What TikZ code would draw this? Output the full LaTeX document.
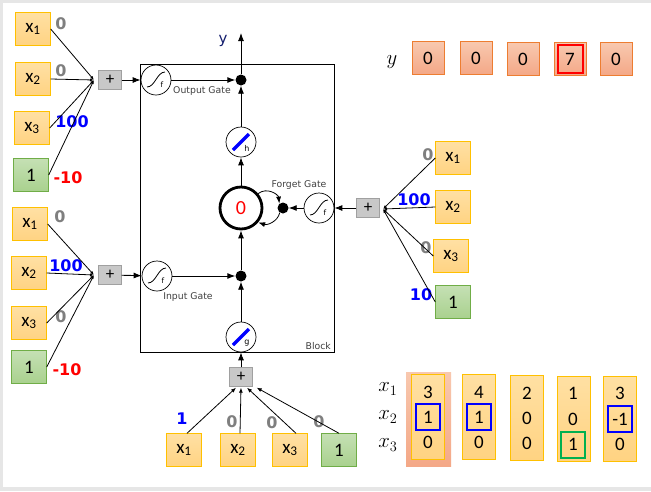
\documentclass[tikz,border=0pt]{standalone}
\usepackage[no-math]{fontspec}
\setmainfont{Carlito}
\newfontfamily\dv{DejaVu Sans}
\usetikzlibrary{arrows.meta}
\definecolor{boxgold}{RGB}{255,192,0}
\definecolor{boxtop}{RGB}{255,224,163}
\definecolor{boxbot}{RGB}{255,211,130}
\definecolor{grnbd}{RGB}{112,173,71}
\definecolor{grntop}{RGB}{197,224,180}
\definecolor{grnbot}{RGB}{169,209,142}
\definecolor{salbd}{RGB}{237,125,49}
\definecolor{saltop}{RGB}{248,200,175}
\definecolor{salbot}{RGB}{244,168,135}
\definecolor{wgray}{RGB}{127,127,127}
\definecolor{pbox}{RGB}{200,200,200}
\definecolor{pboxbd}{RGB}{160,160,160}
\definecolor{navy}{RGB}{20,30,110}
\definecolor{hlgreen}{RGB}{0,176,80}
\definecolor{bggray}{RGB}{230,230,230}
\tikzset{
  inbox/.style={draw=boxgold, top color=boxtop, bottom color=boxbot, minimum width=35pt, minimum height=33pt, inner sep=0pt, font=\fontsize{19}{20}\selectfont},
  onebox/.style={draw=grnbd, top color=grntop, bottom color=grnbot, minimum width=35pt, minimum height=33pt, inner sep=0pt, font=\fontsize{19}{20}\selectfont},
  wlab/.style={font=\dv\bfseries\fontsize{16}{18}\selectfont, inner sep=0pt},
  plusbox/.style={draw=pboxbd, fill=pbox, minimum width=23pt, minimum height=19pt, inner sep=0pt, font=\fontsize{17}{17}\selectfont},
  gatec/.style={circle, draw, line width=0.7pt, minimum size=30pt, inner sep=0pt, fill=white},
  cellc/.style={circle, draw, line width=2.8pt, minimum size=42pt, inner sep=0pt, fill=white, text=red, font=\fontsize{20}{22}\selectfont},
  dotn/.style={circle, fill=black, minimum size=11pt, inner sep=0pt},
  arr/.style={-{Latex[length=8pt,width=6pt]}, line width=0.9pt},
  inarr/.style={-{Latex[length=4pt,width=3pt]}, line width=0.8pt},
  gatelab/.style={font=\dv\fontsize{9.3}{10}\selectfont, text=black!75, inner sep=0pt},
  ybox/.style={draw=salbd, top color=saltop, bottom color=salbot, minimum width=32pt, minimum height=33pt, inner sep=0pt, font=\fontsize{19}{20}\selectfont},
  colbox/.style={draw=boxgold, top color=boxtop, bottom color=boxbot, minimum width=33pt, minimum height=85pt, inner sep=0pt},
  tval/.style={font=\fontsize{19}{20}\selectfont, inner sep=0pt},
  mlab/.style={font=\fontsize{21}{24}\selectfont, inner sep=0pt},
  hlbox/.style={line width=2.5pt, minimum width=24pt, minimum height=26pt, inner sep=0pt},
  sigm/.pic={\draw[line width=0.8pt] (-9,7) .. controls (-1,7) and (1,-8) .. (9,-8);
             \node[font=\dv\fontsize{7.5}{8}\selectfont, inner sep=0pt] at (6,5) {f};},
  actf/.pic={\draw[blue, line width=3.2pt] (-8,8) -- (8,-8);
             \node[font=\dv\fontsize{8}{8}\selectfont, inner sep=0pt] at (6,6) {#1};}
}
\begin{document}
\begin{tikzpicture}[x=1pt,y=-1pt]
\useasboundingbox (0,0) rectangle (651,491);
\fill[bggray] (0,0) rectangle (651,491);
\fill[white] (3,3) rectangle (651,487);

% block
\draw[line width=0.9pt] (140,64) rectangle (334,352);
\node[gatelab, anchor=south east] (blk) at (331,350) {Block};

% top-left group (output gate)
\node[inbox] (a1) at (33,29) {x\textsubscript{1}};
\node[inbox] (a2) at (33,79) {x\textsubscript{2}};
\node[inbox] (a3) at (32,128) {x\textsubscript{3}};
\node[onebox] (a4) at (31,175) {1};
\node[wlab, text=wgray] (wa1) at (61,24) {0};
\node[wlab, text=wgray] (wa2) at (61,71) {0};
\node[wlab, text=blue] (wa3) at (72,122) {100};
\node[wlab, text=red] (wa4) at (68,178) {-10};
\coordinate (c1) at (94,80);
\foreach \n in {a1,a2,a3,a4} \draw[inarr] (\n.east) -- (c1);
\node[plusbox] (p1) at (110,80) {+};
\node[gatec] (s1) at (156,80) {};
\pic at (156,80) {sigm};
\node[gatelab] (og) at (202,91) {Output Gate};
\node[dotn] (d1) at (241,80) {};
\coordinate (ytip) at (241,33);
\node[font=\dv\fontsize{15}{16}\selectfont, text=navy, inner sep=0pt] (ylab) at (223,41) {y};
\draw[arr] (p1) -- (s1);
\draw[arr] (s1) -- (d1);
\draw[arr] (d1) -- (ytip);

% cell column
\node[gatec] (h1) at (241,142) {};
\pic at (241,142) {actf=h};
\node[cellc] (cell) at (241,208) {0};
\node[dotn] (fd) at (283,208) {};
\node[gatec] (fs) at (319,208) {};
\pic at (319,208) {sigm};
\node[gatelab] (fg) at (299,185) {Forget Gate};
\node[dotn] (id) at (241,276) {};
\node[gatec] (is) at (157,276) {};
\pic at (157,276) {sigm};
\node[gatelab] (ig) at (188,297) {Input Gate};
\node[gatec] (g1) at (241,337) {};
\pic at (241,337) {actf=g};
\node[plusbox] (p3) at (241,377) {+};

\draw[arr] (h1) -- (d1);
\draw[arr] (cell) -- (h1);
\draw[arr] (id) -- (cell);
\draw[arr] (g1) -- (id);
\draw[arr] (p3) -- (g1);
\draw[arr] (is) -- (id);
\draw[arr] (fs) -- (fd);
\draw[-{Latex[length=7pt,width=5pt]}, line width=0.8pt] (cell.40) .. controls +(9,-7) and +(-1,-9) .. (fd.130);
\draw[-{Latex[length=7pt,width=5pt]}, line width=0.8pt] (fd.235) .. controls +(-2,9) and +(9,3) .. (cell.-40);

% right group (forget gate)
\node[plusbox] (p2) at (368,208) {+};
\draw[arr] (p2) -- (fs);
\node[inbox] (b1) at (453,158) {x\textsubscript{1}};
\node[inbox] (b2) at (453,207) {x\textsubscript{2}};
\node[inbox] (b3) at (451,256) {x\textsubscript{3}};
\node[onebox] (b4) at (453,302) {1};
\node[wlab, text=wgray] (wb1) at (428,155) {0};
\node[wlab, text=blue] (wb2) at (414,200) {100};
\node[wlab, text=wgray] (wb3) at (426,248) {0};
\node[wlab, text=blue] (wb4) at (421,295) {10};
\coordinate (c2) at (383,209);
\foreach \n in {b1,b2,b3,b4} \draw[inarr] (\n.west) -- (c2);

% left-bottom group (input gate)
\node[inbox] (e1) at (30,224) {x\textsubscript{1}};
\node[inbox] (e2) at (29,273) {x\textsubscript{2}};
\node[inbox] (e3) at (29,323) {x\textsubscript{3}};
\node[onebox] (e4) at (29,367) {1};
\node[wlab, text=wgray] (we1) at (60,217) {0};
\node[wlab, text=blue] (we2) at (66,266) {100};
\node[wlab, text=wgray] (we3) at (61,317) {0};
\node[wlab, text=red] (we4) at (67,370) {-10};
\coordinate (c3) at (94,275);
\foreach \n in {e1,e2,e3,e4} \draw[inarr] (\n.east) -- (c3);
\node[plusbox] (p4) at (110,275) {+};
\draw[arr] (p4) -- (is);

% bottom group (cell input)
\node[inbox] (f1) at (184,450) {x\textsubscript{1}};
\node[inbox] (f2) at (238,450) {x\textsubscript{2}};
\node[inbox] (f3) at (290,450) {x\textsubscript{3}};
\node[onebox] (f4) at (339,450) {1};
\node[wlab, text=blue] (wf1) at (182,419) {1};
\node[wlab, text=wgray] (wf2) at (232,422) {0};
\node[wlab, text=wgray] (wf3) at (272,423) {0};
\node[wlab, text=wgray] (wf4) at (319,422) {0};
\draw[-{Latex[length=5pt,width=4pt]}, line width=0.8pt] ([xshift=3pt]f1.north) -- ([xshift=-5pt,yshift=-1pt]p3.south);
\draw[-{Latex[length=5pt,width=4pt]}, line width=0.8pt] ([xshift=2pt]f2.north) -- ([yshift=-1pt]p3.south);
\draw[-{Latex[length=5pt,width=4pt]}, line width=0.8pt] ([xshift=6pt]f3.north) -- ([xshift=6pt,yshift=-1pt]p3.south);
\draw[-{Latex[length=5pt,width=4pt]}, line width=0.8pt] (f4.north) -- ([xshift=4pt,yshift=-1pt]p3.south east);

% y row
\node[mlab] (yrow) at (392,62) {$y$};
\node[ybox] (y1) at (428,58) {0};
\node[ybox] (y2) at (476,58) {0};
\node[ybox] (y3) at (523,59) {0};
\node[ybox] (y4) at (570,59) {7};
\node[ybox] (y5) at (616,59) {0};
\node[draw=red, line width=2.5pt, minimum width=25pt, minimum height=28pt, inner sep=0pt] (y4h) at (570.5,59) {};

% table
\node[mlab] (tx1) at (388,389) {$x_1$};
\node[mlab] (tx2) at (388,417) {$x_2$};
\node[mlab] (tx3) at (388,445) {$x_3$};
\fill[top color=saltop, bottom color=salbot] (406,372) rectangle (451,466);
\node[colbox] (k1) at (427.5,416.5) {};
\node[colbox] (k2) at (478.5,416.5) {};
\node[colbox] (k3) at (526.5,418) {};
\node[colbox] (k4) at (573.5,418.5) {};
\node[colbox] (k5) at (619.5,419) {};
\node[tval] (v11) at (428,392) {3};
\node[tval] (v12) at (428,417) {1};
\node[tval] (v13) at (428,442) {0};
\node[tval] (v21) at (479,392) {4};
\node[tval] (v22) at (479,417) {1};
\node[tval] (v23) at (479,442) {0};
\node[tval] (v31) at (527,393) {2};
\node[tval] (v32) at (527,418) {0};
\node[tval] (v33) at (527,443) {0};
\node[tval] (v41) at (573,393) {1};
\node[tval] (v42) at (573,419) {0};
\node[tval] (v43) at (573,444) {1};
\node[tval] (v51) at (620,393) {3};
\node[tval] (v52) at (620,419) {-1};
\node[tval] (v53) at (620,444) {0};
\node[hlbox, draw=blue] (hb1) at (428,417) {};
\node[hlbox, draw=blue] (hb2) at (479,417) {};
\node[hlbox, draw=blue] (hb5) at (620,419) {};
\node[hlbox, draw=hlgreen] (hg4) at (573,445) {};
\end{tikzpicture}
\end{document}
